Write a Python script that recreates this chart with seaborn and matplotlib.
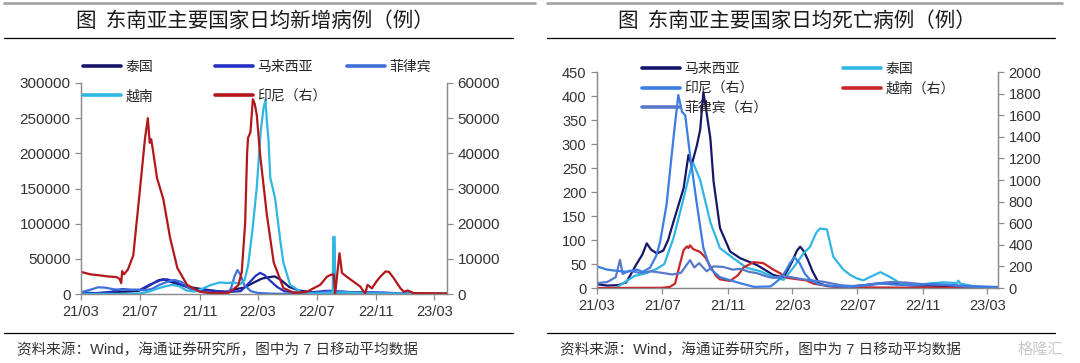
import matplotlib.pyplot as plt
import matplotlib.dates as mdates
from matplotlib.lines import Line2D
import numpy as np
import pandas as pd
import seaborn as sns

# ---------------- left panel: daily new cases (7-day average) ----------------
thai_case_dates = ['2021-03-01', '2021-04-01', '2021-04-15', '2021-05-01', '2021-05-20', '2021-06-10',
                   '2021-06-28', '2021-07-10', '2021-07-25', '2021-08-08', '2021-08-18', '2021-09-01',
                   '2021-09-20', '2021-10-10', '2021-11-01', '2021-12-01', '2021-12-25', '2022-01-15',
                   '2022-02-01', '2022-02-20', '2022-03-10', '2022-03-25', '2022-04-05', '2022-04-18',
                   '2022-05-05', '2022-05-25', '2022-06-20', '2022-08-01', '2022-10-01', '2022-12-01',
                   '2023-03-27']
thai_case_vals = [100, 100, 800, 2000, 3000, 3500, 4500, 8000, 14000, 19500, 21000, 17500,
                  13500, 10000, 7500, 4500, 3000, 7000, 9000, 16000, 22000, 24000, 25000, 20000,
                  10000, 5000, 2500, 2200, 700, 400, 100]

mal_case_dates = ['2021-03-01', '2021-04-01', '2021-05-01', '2021-05-25', '2021-06-10', '2021-07-01',
                  '2021-07-20', '2021-08-10', '2021-08-25', '2021-09-10', '2021-09-25', '2021-10-15',
                  '2021-11-01', '2021-12-01', '2022-01-01', '2022-01-25', '2022-02-10', '2022-02-25',
                  '2022-03-06', '2022-03-15', '2022-03-25', '2022-04-10', '2022-04-25', '2022-05-20',
                  '2022-06-20', '2022-07-20', '2022-08-01', '2022-09-01', '2022-10-15', '2022-11-15',
                  '2023-01-01', '2023-03-27']
mal_case_vals = [2000, 1300, 3000, 7000, 6000, 6000, 13000, 19000, 21000, 18000, 13000, 7000,
                 5500, 4500, 3000, 4000, 15000, 26000, 30000, 27000, 20000, 10000, 4000, 2000,
                 2200, 4500, 4500, 2500, 2500, 2000, 600, 300]

phi_case_dates = ['2021-03-01', '2021-03-20', '2021-04-05', '2021-04-20', '2021-05-10', '2021-06-01',
                  '2021-06-20', '2021-07-10', '2021-07-25', '2021-08-10', '2021-08-25', '2021-09-10',
                  '2021-09-25', '2021-10-10', '2021-10-25', '2021-11-15', '2021-12-10', '2021-12-28',
                  '2022-01-05', '2022-01-12', '2022-01-18', '2022-01-24', '2022-02-01', '2022-02-15',
                  '2022-03-01', '2022-04-01', '2022-05-15', '2022-06-20', '2022-07-25', '2022-08-15',
                  '2022-09-15', '2022-10-20', '2022-11-20', '2022-12-20', '2023-01-20', '2023-03-27']
phi_case_vals = [2500, 6000, 9500, 9000, 6500, 6000, 5700, 5500, 7000, 13000, 17000, 20000,
                 17000, 9000, 5000, 2000, 400, 1000, 8000, 25000, 34000, 28000, 13000, 4000,
                 1500, 400, 200, 700, 3500, 4000, 2500, 2000, 1500, 1000, 400, 150]

vn_case_dates = ['2021-03-01', '2021-05-01', '2021-06-01', '2021-07-01', '2021-07-20', '2021-08-05',
                 '2021-08-20', '2021-09-05', '2021-09-20', '2021-10-05', '2021-10-20', '2021-11-05',
                 '2021-11-23', '2021-12-13', '2021-12-27', '2022-01-10', '2022-01-24', '2022-02-02',
                 '2022-02-09', '2022-02-18', '2022-02-27', '2022-03-07', '2022-03-13', '2022-03-17',
                 '2022-03-20', '2022-03-23', '2022-03-27', '2022-04-06', '2022-04-17', '2022-04-23',
                 '2022-05-07', '2022-05-30', '2022-06-25', '2022-07-25', '2022-08-03', '2022-08-04',
                 '2022-08-07', '2022-08-08', '2022-09-10', '2022-10-15', '2022-12-01', '2023-03-27']
vn_case_vals = [50, 100, 300, 800, 3500, 7500, 10500, 13000, 11000, 5000, 3500, 7000,
                12500, 16500, 15500, 16500, 14000, 20000, 40000, 90000, 151000, 230000, 264000, 276000,
                245000, 222000, 165000, 136000, 74000, 45000, 13000, 2500, 800, 1500, 2000, 81000,
                81000, 2000, 1500, 800, 500, 100]

# Indonesia is on the right axis
idn_case_dates = ['2021-03-01', '2021-03-20', '2021-04-09', '2021-04-25', '2021-05-14', '2021-05-20',
                  '2021-05-23', '2021-05-25', '2021-05-29', '2021-06-06', '2021-06-17', '2021-07-01',
                  '2021-07-11', '2021-07-17', '2021-07-21', '2021-07-24', '2021-07-28', '2021-08-05',
                  '2021-08-18', '2021-09-01', '2021-09-16', '2021-10-06', '2021-11-02', '2021-12-01',
                  '2022-01-01', '2022-01-20', '2022-01-27', '2022-02-03', '2022-02-07', '2022-02-09',
                  '2022-02-14', '2022-02-19', '2022-02-23', '2022-02-27', '2022-03-06', '2022-03-20',
                  '2022-04-03', '2022-04-23', '2022-05-15', '2022-06-10', '2022-06-24', '2022-07-08',
                  '2022-07-22', '2022-07-29', '2022-08-05', '2022-08-08', '2022-08-17', '2022-08-22',
                  '2022-09-01', '2022-09-15', '2022-09-29', '2022-10-06', '2022-10-09', '2022-10-14',
                  '2022-10-23', '2022-11-01', '2022-11-09', '2022-11-20', '2022-11-27', '2022-12-07',
                  '2022-12-21', '2022-12-28', '2023-01-05', '2023-01-17', '2023-03-27']
idn_case_vals = [6300, 5600, 5300, 5000, 4800, 4200, 3100, 6500, 5600, 7000, 11000, 30000,
                 44000, 50000, 43000, 44000, 40500, 33000, 27000, 16000, 7400, 2600, 600, 250,
                 400, 2500, 6200, 20000, 39600, 44400, 46000, 55400, 54000, 51000, 39600, 22400,
                 9000, 1700, 300, 600, 1600, 2600, 4900, 5400, 5600, 200, 11600, 6000,
                 4900, 3500, 2100, 650, 200, 2600, 1600, 3500, 4900, 6400, 6300, 4500,
                 1600, 650, 1000, 250, 150]

# ---------------- right panel: daily deaths (7-day average) ----------------
mal_death_dates = ['2021-03-01', '2021-03-20', '2021-04-10', '2021-04-25', '2021-05-14', '2021-05-25',
                   '2021-06-02', '2021-06-10', '2021-06-21', '2021-07-03', '2021-07-12', '2021-07-22',
                   '2021-08-10', '2021-08-19', '2021-08-25', '2021-09-04', '2021-09-10', '2021-09-16',
                   '2021-09-20', '2021-09-29', '2021-10-05', '2021-10-17', '2021-11-05', '2021-11-24',
                   '2021-12-25', '2022-01-25', '2022-02-13', '2022-03-01', '2022-03-10', '2022-03-16',
                   '2022-03-22', '2022-03-30', '2022-04-08', '2022-04-20', '2022-05-05', '2022-06-01',
                   '2022-07-15', '2022-08-15', '2022-09-15', '2022-10-15', '2022-11-15', '2022-12-15',
                   '2023-01-15', '2023-03-21']
mal_death_vals = [8, 5, 6, 12, 50, 70, 93, 80, 72, 78, 100, 138,
                  208, 277, 256, 298, 330, 408, 380, 312, 222, 125, 76, 62,
                  48, 27, 22, 55, 78, 86, 78, 60, 35, 10, 4, 2,
                  6, 10, 8, 5, 5, 4, 3, 1]

thai_death_dates = ['2021-03-01', '2021-04-05', '2021-04-19', '2021-05-10', '2021-06-02', '2021-06-21',
                    '2021-07-05', '2021-07-22', '2021-08-10', '2021-08-25', '2021-08-28', '2021-09-10',
                    '2021-09-29', '2021-10-17', '2021-11-11', '2021-12-06', '2021-12-31', '2022-01-25',
                    '2022-02-13', '2022-03-03', '2022-03-22', '2022-04-03', '2022-04-15', '2022-04-22',
                    '2022-05-05', '2022-05-17', '2022-06-05', '2022-06-18', '2022-06-30', '2022-07-12',
                    '2022-07-25', '2022-08-13', '2022-08-31', '2022-09-19', '2022-10-02', '2022-11-02',
                    '2022-12-09', '2023-01-03', '2023-01-06', '2023-01-10', '2023-02-03', '2023-03-21']
thai_death_vals = [0, 0, 10, 25, 31, 40, 50, 104, 187, 256, 260, 225,
                   137, 83, 62, 42, 35, 23, 17, 42, 72, 85, 115, 124,
                   122, 65, 38, 27, 20, 16, 23, 33, 23, 10, 8, 8,
                   12, 10, 15, 9, 4, 1]

# Indonesia, Vietnam and the Philippines are on the right axis
idn_death_dates = ['2021-03-01', '2021-03-20', '2021-04-05', '2021-04-25', '2021-05-15', '2021-05-25',
                   '2021-06-08', '2021-06-20', '2021-06-27', '2021-07-09', '2021-07-22', '2021-07-31',
                   '2021-08-04', '2021-08-07', '2021-08-13', '2021-08-22', '2021-09-04', '2021-09-16',
                   '2021-09-29', '2021-10-17', '2021-11-24', '2021-12-20', '2022-01-20', '2022-02-10',
                   '2022-02-25', '2022-03-05', '2022-03-15', '2022-03-25', '2022-04-05', '2022-04-20',
                   '2022-05-15', '2022-06-15', '2022-07-15', '2022-08-15', '2022-09-15', '2022-10-15',
                   '2022-11-15', '2022-12-15', '2023-01-15', '2023-02-15', '2023-03-21']
idn_death_vals = [200, 170, 160, 150, 170, 150, 187, 300, 426, 769, 1387, 1787,
                  1700, 1630, 1600, 1231, 769, 370, 178, 100, 44, 10, 15, 100,
                  230, 285, 230, 130, 70, 35, 18, 10, 25, 40, 30, 25,
                  40, 30, 15, 8, 5]

vn_death_dates = ['2021-03-01', '2021-07-01', '2021-07-15', '2021-07-25', '2021-08-03', '2021-08-10',
                  '2021-08-16', '2021-08-19', '2021-08-22', '2021-08-28', '2021-09-10', '2021-09-20',
                  '2021-09-29', '2021-10-10', '2021-10-17', '2021-11-05', '2021-11-20', '2021-11-30',
                  '2021-12-19', '2022-01-06', '2022-01-25', '2022-02-07', '2022-02-19', '2022-03-05',
                  '2022-03-28', '2022-04-10', '2022-04-29', '2022-06-01', '2022-09-01', '2023-03-21']
vn_death_vals = [0, 2, 10, 40, 220, 350, 385, 370, 395, 360, 333, 280,
                 200, 110, 80, 65, 120, 190, 240, 230, 170, 135, 95, 85,
                 70, 40, 25, 8, 4, 1]

phi_death_dates = ['2021-03-01', '2021-03-20', '2021-04-05', '2021-04-13', '2021-04-18', '2021-05-01',
                   '2021-05-20', '2021-06-10', '2021-07-01', '2021-07-20', '2021-08-05', '2021-08-22',
                   '2021-08-30', '2021-09-08', '2021-09-22', '2021-10-05', '2021-10-23', '2021-11-10',
                   '2021-11-24', '2021-12-10', '2021-12-25', '2022-01-10', '2022-01-25', '2022-02-10',
                   '2022-02-25', '2022-03-10', '2022-03-28', '2022-04-28', '2022-06-01', '2022-07-01',
                   '2022-08-01', '2022-09-01', '2022-10-01', '2022-11-01', '2022-12-01', '2023-01-01',
                   '2023-02-01', '2023-03-21']
phi_death_vals = [45, 55, 100, 260, 130, 160, 140, 155, 140, 125, 140, 258,
                  190, 230, 155, 200, 195, 170, 178, 150, 138, 110, 93, 110,
                  102, 90, 76, 58, 25, 15, 40, 55, 50, 35, 30, 25,
                  15, 10]

NAVY = '#16166a'
BLUE = '#2232c2'
MID_BLUE = '#3f6fd9'
CYAN = '#2fb6e3'
RED = '#b3171c'
IDN_BLUE = '#3b7de2'
PHI_BLUE = '#5878c9'
DEATH_RED = '#c8262b'

W, H = 1080, 363

sns.set_style('white')
plt.rcParams['font.family'] = ['Liberation Sans', 'Noto Sans CJK SC', 'DejaVu Sans']
CJK = ['Noto Sans CJK SC', 'DejaVu Sans']


def box(left, top, right, bottom):
    # pixel box -> figure fraction [left, bottom, width, height]
    return [left / W, 1 - bottom / H, (right - left) / W, (bottom - top) / H]


def draw_line(ax, dates, values, color):
    frame = pd.DataFrame({'date': pd.to_datetime(dates), 'value': values})
    sns.lineplot(data=frame, x='date', y='value', ax=ax, color=color, linewidth=1.6, legend=False)


def style_axes(ax, ax2, xmax, left_max, left_step, right_max, right_step, ysize):
    ax.set_xlim(pd.Timestamp('2021-03-01'), pd.Timestamp(xmax))
    ax.set_ylim(0, left_max)
    ax.set_yticks(np.arange(0, left_max + 1, left_step))
    ax2.set_ylim(0, right_max)
    ax2.set_yticks(np.arange(0, right_max + 1, right_step))
    ax.xaxis.set_major_locator(mdates.MonthLocator(bymonth=[3, 7, 11]))
    ax.xaxis.set_major_formatter(mdates.DateFormatter('%y/%m'))
    for a in (ax, ax2):
        a.set_xlabel('')
        a.set_ylabel('')
        a.spines['top'].set_visible(False)
        for s in a.spines.values():
            s.set_color('#8c8c8c')
            s.set_linewidth(0.9)
        a.tick_params(colors='#8c8c8c', labelcolor='#333333', length=4, width=0.9, labelsize=ysize)
    ax.tick_params(axis='x', bottom=True, pad=4, labelsize=10.5)
    ax.tick_params(axis='y', left=True, right=False)
    ax2.tick_params(axis='y', right=True, left=False, labelright=True, labelleft=False)


def column_legend(fig, labels, colors, x_px, y_px, spacing):
    handles = [Line2D([], [], color=c, lw=2.6) for c in colors]
    fig.legend(handles, labels, loc='upper left', bbox_to_anchor=(x_px / W, 1 - y_px / H),
               frameon=False, borderpad=0, borderaxespad=0, handlelength=2.7, handletextpad=0.35,
               labelspacing=spacing, prop={'family': CJK, 'size': 10})


fig = plt.figure(figsize=(W / 100, H / 100), dpi=100)

# header / footer rules and texts for both panels
for x0, x1, xg1, cx, title, sx in [(4, 513, 535, 255, '图  东南亚主要国家日均新增病例（例）', 17),
                                   (547, 1055, 1062, 797, '图  东南亚主要国家日均死亡病例（例）', 560)]:
    fig.add_artist(Line2D([x0 / W, xg1 / W], [1 - 3 / H] * 2, color='#a6a6a6', lw=2))
    fig.add_artist(Line2D([x0 / W, x1 / W], [1 - 38 / H] * 2, color='black', lw=0.9))
    fig.add_artist(Line2D([x0 / W, x1 / W], [1 - 333 / H] * 2, color='black', lw=0.9))
    fig.text(cx / W, 1 - 21 / H, title, ha='center', va='center', fontsize=14.8, family=CJK, color='#1a1a1a')
    fig.text(sx / W, 1 - 350 / H, '资料来源：Wind，海通证券研究所，图中为 7 日移动平均数据',
             ha='left', va='center', fontsize=10.5, color='#333333')

fig.text(1040 / W, 1 - 349 / H, '格隆汇', ha='center', va='center', fontsize=11, family=CJK, color='#c8c8c8')

# left panel: new cases
ax1 = fig.add_axes(box(81, 83, 447, 294))
ax1r = ax1.twinx()
draw_line(ax1, thai_case_dates, thai_case_vals, NAVY)
draw_line(ax1, mal_case_dates, mal_case_vals, BLUE)
draw_line(ax1, phi_case_dates, phi_case_vals, MID_BLUE)
draw_line(ax1, vn_case_dates, vn_case_vals, CYAN)
draw_line(ax1r, idn_case_dates, idn_case_vals, RED)
style_axes(ax1, ax1r, '2023-03-27', 300000, 50000, 60000, 10000, 11)

column_legend(fig, ['泰国', '越南'], [NAVY, CYAN], 83, 60, 1.1)
column_legend(fig, ['马来西亚', '印尼（右）'], [BLUE, RED], 215, 60, 1.1)
column_legend(fig, ['菲律宾'], [MID_BLUE], 347, 60, 1.1)

# right panel: deaths
ax2 = fig.add_axes(box(597, 72, 998, 288))
ax2r = ax2.twinx()
draw_line(ax2, mal_death_dates, mal_death_vals, NAVY)
draw_line(ax2, thai_death_dates, thai_death_vals, CYAN)
draw_line(ax2r, vn_death_dates, vn_death_vals, DEATH_RED)
draw_line(ax2r, phi_death_dates, phi_death_vals, PHI_BLUE)
draw_line(ax2r, idn_death_dates, idn_death_vals, IDN_BLUE)
style_axes(ax2, ax2r, '2023-03-21', 450, 50, 2000, 200, 10.5)

column_legend(fig, ['马来西亚', '印尼（右）', '菲律宾（右）'], [NAVY, IDN_BLUE, PHI_BLUE], 642, 62, 0.4)
column_legend(fig, ['泰国', '越南（右）'], [CYAN, DEATH_RED], 843, 62, 0.4)

fig.savefig('out.png', dpi=100)
